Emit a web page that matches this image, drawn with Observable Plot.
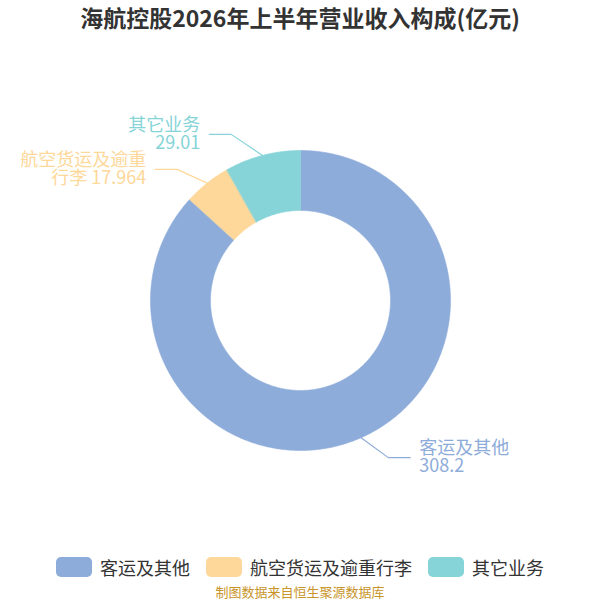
<!DOCTYPE html>
<html><head><meta charset="utf-8">
<script src="https://cdn.jsdelivr.net/npm/d3@7"></script>
<script src="https://cdn.jsdelivr.net/npm/@observablehq/plot@0.6"></script>
<style>
body{margin:0;background:#fff;font-family:"Noto Sans CJK SC","Noto Sans",sans-serif;width:600px;height:600px;position:relative;overflow:hidden;}
#title{position:absolute;top:0;left:0;width:600px;height:34px;line-height:34px;text-align:center;font-size:23px;font-weight:bold;color:#333;}
#chart{position:absolute;top:40px;left:0;}
#legend{position:absolute;top:555px;left:0;width:600px;height:24px;display:flex;justify-content:center;align-items:center;font-size:18px;color:#333;}
#legend .item{display:flex;align-items:center;margin:0 8px;}
#legend .sw{width:36px;height:20px;border-radius:5px;margin-right:8px;}
#caption{position:absolute;top:583px;left:0;width:600px;height:18px;line-height:18px;text-align:center;font-size:13px;color:#c8952b;}
</style></head><body>
<div id="title"></div>
<div id="chart"></div>
<div id="legend"></div>
<div id="caption"></div>
<script>
const titleText = "海航控股2026年上半年营业收入构成(亿元)";
const captionText = "制图数据来自恒生聚源数据库";
const names = ["客运及其他", "航空货运及逾重行李", "其它业务"];
const values = [308.2, 17.964, 29.01];
const colors = ["#8eacda", "#fed89a", "#86d4d7"];

document.getElementById("title").textContent = titleText;
document.getElementById("caption").textContent = captionText;

const PX = 150; // px per unit (outer radius)
const inner = 0.6;
const arcs = d3.pie().sort(null).value(d => d)(values);

// slice polygons
const polys = [];
arcs.forEach((a, i) => {
  const n = Math.max(4, Math.ceil((a.endAngle - a.startAngle) / Math.PI * 360));
  const outer = [], inn = [];
  for (let k = 0; k <= n; k++) {
    const t = a.startAngle + (a.endAngle - a.startAngle) * k / n;
    outer.push({x: Math.sin(t), y: Math.cos(t), name: names[i]});
    inn.push({x: inner * Math.sin(t), y: inner * Math.cos(t), name: names[i]});
  }
  polys.push(...outer, ...inn.reverse());
});

// label layout (vertical de-overlap, then x placed on an ellipse)
const wrap = (name, v) => name.length > 7 ? name.slice(0, 7) + "\n" + name.slice(7) + " " + v : name + "\n" + v;
const rY = 1.145, rX = 1.2, gap = 35 / PX, len2 = 22 / PX;
let labels = arcs.map((a, i) => {
  const m = (a.startAngle + a.endAngle) / 2;
  return {i, name: names[i], m, side: Math.sin(m) >= 0 ? 1 : -1, ey: rY * Math.cos(m), text: wrap(names[i], values[i])};
});
[1, -1].forEach(s => {
  const L = labels.filter(d => d.side === s).sort((a, b) => b.ey - a.ey);
  for (let k = 1; k < L.length; k++) {
    if (L[k - 1].ey - L[k].ey < gap) L[k].ey = L[k - 1].ey - gap;
  }
});
labels.forEach(d => {
  d.ex = d.side * Math.sqrt(Math.max(0, rX * rX - d.ey * d.ey));
  d.tx = d.ex + d.side * len2;
});
const leader = labels.flatMap(d => [
  {x: Math.sin(d.m), y: Math.cos(d.m), name: d.name},
  {x: d.ex, y: d.ey, name: d.name},
  {x: d.tx, y: d.ey, name: d.name}
]);

const chart = Plot.plot({
  width: 600, height: 500, margin: 0,
  x: {domain: [-1, 1], range: [300 - PX, 300 + PX], axis: null},
  y: {domain: [-1, 1], range: [260 + PX, 260 - PX], axis: null},
  color: {domain: names, range: colors},
  style: {fontFamily: '"Noto Sans CJK SC","Noto Sans",sans-serif', background: "#fff"},
  marks: [
    Plot.line(polys, {x: "x", y: "y", z: "name", fill: "name", stroke: "name", strokeWidth: 0.6, curve: "linear-closed"}),
    Plot.line(leader, {x: "x", y: "y", z: "name", stroke: "name", strokeWidth: 1.2}),
    Plot.text(labels.filter(d => d.side > 0), {x: "tx", y: "ey", text: "text", fill: "name", textAnchor: "start", dx: 9, fontSize: 18, lineHeight: 1.0}),
    Plot.text(labels.filter(d => d.side < 0), {x: "tx", y: "ey", text: "text", fill: "name", textAnchor: "end", dx: -9, fontSize: 18, lineHeight: 1.0})
  ]
});
document.getElementById("chart").appendChild(chart);

const lg = document.getElementById("legend");
names.forEach((n, i) => {
  const it = document.createElement("div"); it.className = "item";
  const sw = document.createElement("div"); sw.className = "sw"; sw.style.background = colors[i];
  const tx = document.createElement("span"); tx.textContent = n;
  it.appendChild(sw); it.appendChild(tx); lg.appendChild(it);
});
</script>
</body></html>
